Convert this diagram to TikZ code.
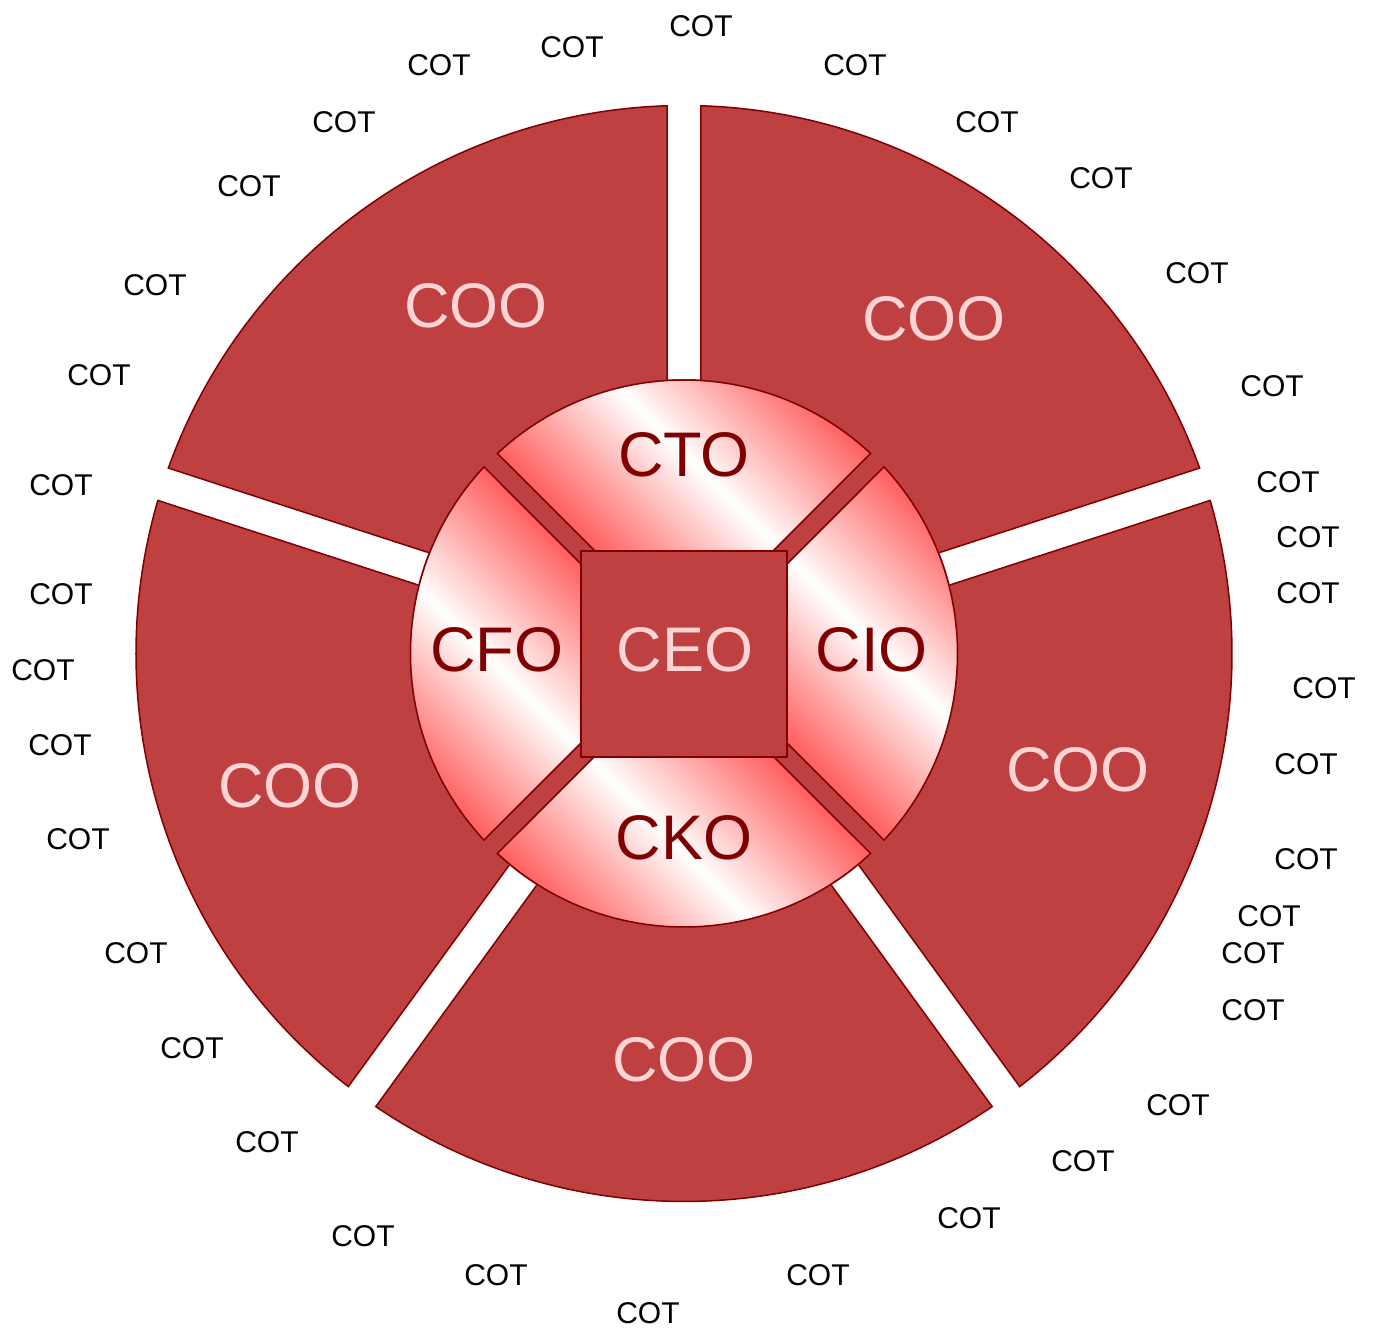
\documentclass[tikz,border=0pt]{standalone}
\usepackage{fontspec}
\setmainfont{Liberation Sans}
\definecolor{secfill}{RGB}{190,64,64}
\definecolor{secline}{RGB}{128,0,0}
\definecolor{segred}{RGB}{255,82,82}
\definecolor{lblpink}{RGB}{255,212,212}
\newcommand\myBigFont{\fontsize{63}{63}\selectfont}
\newcommand\myCotFont{\fontsize{30}{30}\selectfont}
\begin{document}
\begin{tikzpicture}[x=1pt,y=1pt,
  sector/.style={fill=secfill, draw=secline, line width=1.5pt},
  segment/.style={draw=secline, line width=1.5pt, top color=segred, bottom color=segred, middle color=white, shading angle=-45},
  cot/.style={font=\myCotFont, text=black, inner sep=0pt},
  coo/.style={font=\myBigFont, text=lblpink, inner sep=0pt},
  chief/.style={font=\myBigFont, text=secline, inner sep=0pt}]
\useasboundingbox (-684,-678.5) rectangle (693,653.5);
% outer sectors
\foreach \k in {0,...,4}{
  \pgfmathsetmacro\oa{90+72*\k+1.778}
  \pgfmathsetmacro\ob{162+72*\k-1.778}
  \pgfmathsetmacro\ia{90+72*\k+3.564}
  \pgfmathsetmacro\ib{162+72*\k-3.564}
  \draw[sector] (\oa:548pt) arc[start angle=\oa, end angle=\ob, radius=548pt]
     -- (\ib:273.5pt) arc[start angle=\ib, end angle=\ia, radius=273.5pt] -- cycle;
}
% inner disc
\fill[secfill] (0,0) circle[radius=274.5pt];
% inner segments (their inner ends are hidden under the CEO square)
\foreach \m in {90,0,-90,180}{
  \pgfmathsetmacro\sa{\m-45+1.99}
  \pgfmathsetmacro\sb{\m+45-1.99}
  \pgfmathsetmacro\ca{\m-40.9}
  \pgfmathsetmacro\cb{\m+40.9}
  \draw[segment] (\ca:133.6pt) -- (\sa:273.5pt) arc[start angle=\sa, end angle=\sb, radius=273.5pt] -- (\cb:133.6pt) -- cycle;
}
% CEO square
\draw[sector] (-103,-103.5) rectangle (103,102.5);
\node[coo] (ceo) at (1,3.5) {CEO};
\node[chief] (cto) at (0,198.5) {CTO};
\node[chief] (cfo) at (-187,3.5) {CFO};
\node[chief] (cio) at (188,3.5) {CIO};
\node[chief] (cko) at (0,-184) {CKO};
% COO labels
\node[coo] (coo1) at (-208,347.5) {COO};
\node[coo] (coo2) at (250,334.5) {COO};
\node[coo] (coo3) at (394,-116.5) {COO};
\node[coo] (coo4) at (0,-406.5) {COO};
\node[coo] (coo5) at (-394,-132.5) {COO};
% COT labels
\foreach \x/\y [count=\i] in {17/627, 171/588.5, 303/531.5, 417/475.5, 513/380.5, 588/267.5,
  604/171.5, 624/116.5, 624/60.5, 640/-34.5, 622/-110.5, 622/-205.5, 585/-262.5, 569/-299.5,
  569/-356.5, 494/-451.5, 399/-507.5, 285/-564.5, 134/-621.5, -36/-659.5, -188/-621.5,
  -321/-582.5, -417/-488.5, -492/-394.5, -548/-299.5, -606/-185.5, -624/-91.5, -641/-16.5,
  -623/59.5, -623/168.5, -585/278.5, -529/368.5, -435/467.5, -340/531.5, -245/588.5, -112/606.5}{
  \node[cot] (cot\i) at (\x,\y) {COT};
}
\end{tikzpicture}
\end{document}
